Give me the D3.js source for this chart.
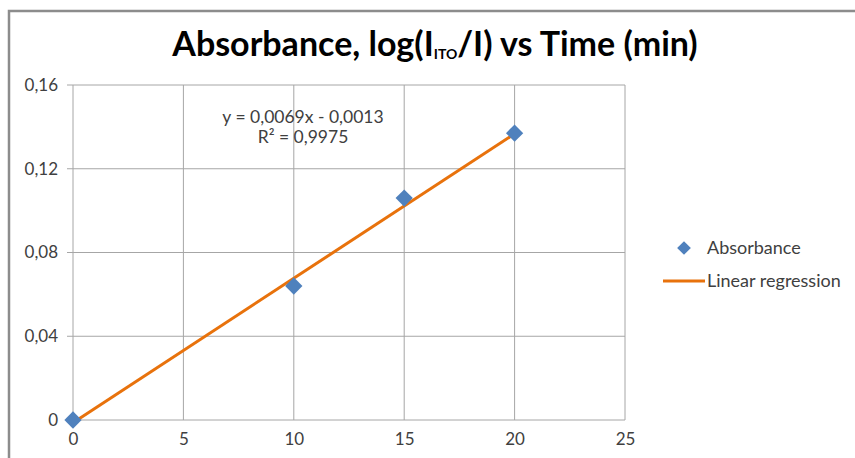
<!DOCTYPE html>
<html>
<head>
<meta charset="utf-8">
<script src="https://cdn.jsdelivr.net/npm/d3@7"></script>
<style>
  body { margin: 0; background: #fff; }
  svg { font-family: Lato, "Open Sans", sans-serif; }
</style>
</head>
<body>
<svg id="chart" width="855" height="458"></svg>
<script>
const times = [0, 10, 15, 20];
const absorbance = [0, 0.064, 0.106, 0.137];
const xTicks = [0, 5, 10, 15, 20, 25];
const yTicks = [0, 0.04, 0.08, 0.12, 0.16];
const slope = 0.0069;
const intercept = -0.0013;
const fitRange = [0, 20];

const fmt = (d) => (d === 0 ? "0" : d.toFixed(2).replace(".", ","));

let svg = d3.select("#chart");

// outer frame (cropped chart border)
svg.append("path")
  .attr("d", "M9,458 V11 H855")
  .attr("fill", "none")
  .attr("stroke", "#8c8c8c")
  .attr("stroke-width", 2.5);

const x = d3.scaleLinear().domain([0, 25]).range([73, 625]);
const y = d3.scaleLinear().domain([0, 0.16]).range([420, 85]);

// grid
let grid = svg.append("g").attr("stroke", "#a6a6a6").attr("stroke-width", 1);
grid.selectAll("line.h").data(yTicks).enter().append("line")
  .attr("x1", x(0) - 6).attr("x2", x(25))
  .attr("y1", (d) => y(d)).attr("y2", (d) => y(d));
grid.selectAll("line.v").data(xTicks).enter().append("line")
  .attr("x1", (d) => x(d)).attr("x2", (d) => x(d))
  .attr("y1", y(0.16)).attr("y2", y(0));

// axes labels
let yAxis = d3.axisLeft(y).tickValues(yTicks).tickFormat(fmt).tickSize(0).tickPadding(15);
svg.append("g").attr("transform", `translate(${x(0)},0)`).call(yAxis)
  .call((g) => g.select(".domain").remove())
  .selectAll("text").attr("font-size", 17).attr("fill", "#404040")
  .attr("font-family", "Lato, sans-serif");

let xAxis = d3.axisBottom(x).tickValues(xTicks).tickFormat(d3.format("d")).tickSize(0).tickPadding(13);
svg.append("g").attr("transform", `translate(0,${y(0)})`).call(xAxis)
  .call((g) => g.select(".domain").remove())
  .selectAll("text").attr("font-size", 17).attr("fill", "#404040")
  .attr("font-family", "Lato, sans-serif");

// regression line
svg.append("line")
  .attr("x1", x(fitRange[0])).attr("y1", y(slope * fitRange[0] + intercept))
  .attr("x2", x(fitRange[1])).attr("y2", y(slope * fitRange[1] + intercept))
  .attr("stroke", "#e8720c").attr("stroke-width", 3);

// points
const diamond = d3.symbol().type(d3.symbolDiamond2).size(190);
svg.append("g").selectAll("path")
  .data(times.map((t, i) => [t, absorbance[i]]))
  .enter().append("path")
  .attr("d", diamond)
  .attr("transform", (d) => `translate(${x(d[0])},${y(d[1])})`)
  .attr("fill", "#4f81bd");

// title
let title = svg.append("text")
  .attr("x", 435).attr("y", 56)
  .attr("text-anchor", "middle")
  .attr("font-size", 34).attr("font-weight", "bold").attr("fill", "#000");
title.append("tspan").text("Absorbance, log(I");
title.append("tspan").text("ITO").attr("font-size", 14).attr("dy", 3);
title.append("tspan").text("/I) vs Time (min)").attr("dy", -3);

// equation
svg.append("text").attr("x", 303).attr("y", 123).attr("text-anchor", "middle")
  .attr("font-size", 17.5).attr("fill", "#404040")
  .text("y = 0,0069x - 0,0013");
svg.append("text").attr("x", 303).attr("y", 143).attr("text-anchor", "middle")
  .attr("font-size", 17.5).attr("fill", "#404040")
  .text("R² = 0,9975");

// legend
let legend = svg.append("g").attr("font-size", 18).attr("fill", "#404040");
legend.append("path").attr("d", diamond.size(120))
  .attr("transform", "translate(684,248)").attr("fill", "#4f81bd");
legend.append("text").attr("x", 707).attr("y", 254).text("Absorbance");
legend.append("line").attr("x1", 663).attr("x2", 705).attr("y1", 281).attr("y2", 281)
  .attr("stroke", "#e8720c").attr("stroke-width", 3);
legend.append("text").attr("x", 707).attr("y", 287).text("Linear regression");
</script>
</body>
</html>
